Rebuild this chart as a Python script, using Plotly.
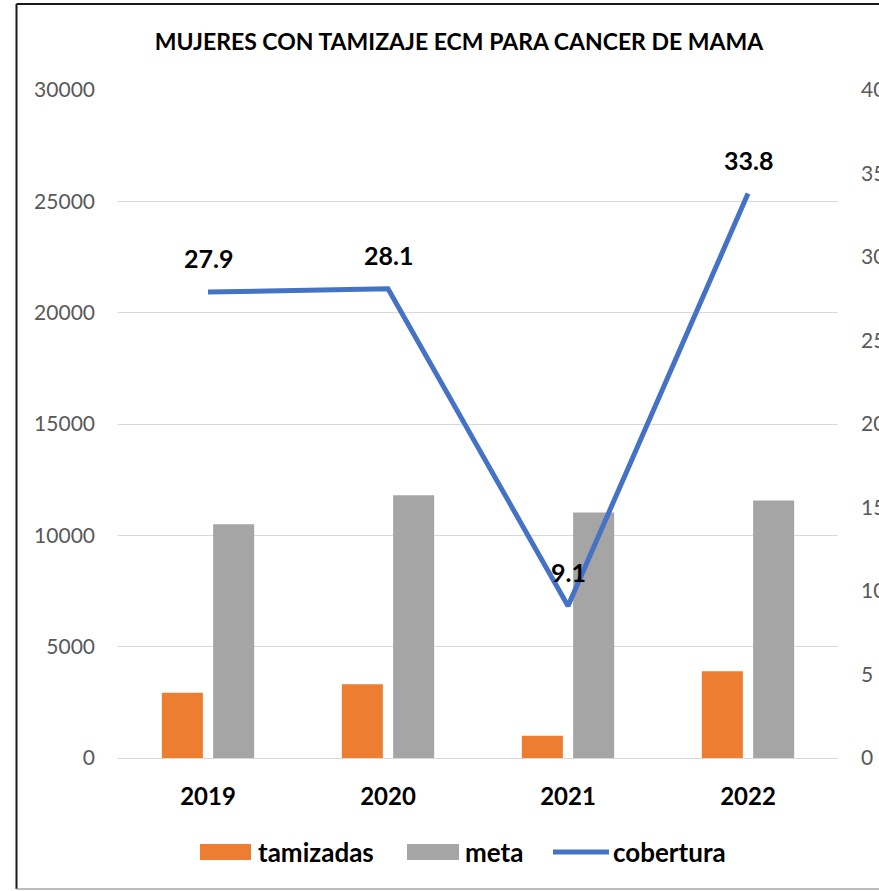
import plotly.graph_objects as go

# Screening data by year
years = ["2019", "2020", "2021", "2022"]
tamizadas = [2930, 3310, 1000, 3900]
meta = [10500, 11800, 11020, 11560]
cobertura = [27.9, 28.1, 9.1, 33.8]

left_ticks = [0, 5000, 10000, 15000, 20000, 25000, 30000]
right_ticks = [0, 5, 10, 15, 20, 25, 30, 35, 40]

FONT = "Lato"
ORANGE = "#ED7D31"
GRAY = "#A5A5A5"
BLUE = "#4472C4"
TICK_COLOR = "#595959"
GRID = "#D9D9D9"

W, H = 879, 891
ML, MR, MT, MB = 118, 41, 90, 133
PW, PH = W - ML - MR, H - MT - MB


def px(xpix):
    """Figure pixel column -> paper x."""
    return (xpix - ML) / PW


def py(ypix):
    """Figure pixel row -> paper y."""
    return (H - MB - ypix) / PH


fig = go.Figure()

fig.add_trace(go.Bar(
    x=years, y=tamizadas, name="tamizadas",
    marker=dict(color=ORANGE, line=dict(width=0)),
))
fig.add_trace(go.Bar(
    x=years, y=meta, name="meta",
    marker=dict(color=GRAY, line=dict(width=0)),
))
fig.add_trace(go.Scatter(
    x=years, y=cobertura, name="cobertura", yaxis="y2",
    mode="lines", line=dict(color=BLUE, width=5),
))

# Value labels above the coverage line (category index positions)
for i, v in enumerate(cobertura):
    fig.add_annotation(
        x=i, y=v, xref="x", yref="y2", text=f"<b>{v}</b>",
        showarrow=False, yshift=34,
        font=dict(family=FONT, size=25, color="#000000"),
    )

# Outer chart border (left, top, bottom edges)
fig.add_shape(type="line", xref="paper", yref="paper",
              x0=px(16.5), x1=px(16.5), y0=py(889), y1=py(4),
              line=dict(color="#1a1a1a", width=2))
fig.add_shape(type="line", xref="paper", yref="paper",
              x0=px(16.5), x1=px(900), y0=py(4), y1=py(4),
              line=dict(color="#1a1a1a", width=2))
fig.add_shape(type="line", xref="paper", yref="paper",
              x0=px(16.5), x1=px(900), y0=py(889), y1=py(889),
              line=dict(color="#A6A6A6", width=1.5))

# Legend drawn below the axis
legend_items = [
    ("tamizadas", ORANGE, "rect", 200, 251, 256),
    ("meta", GRAY, "rect", 407, 459, 463),
    ("cobertura", BLUE, "line", 553, 609, 611),
]
LEG_Y = 852
for name, color, kind, x0, x1, tx in legend_items:
    if kind == "rect":
        fig.add_shape(type="rect", xref="paper", yref="paper",
                      x0=px(x0), x1=px(x1), y0=py(LEG_Y + 8), y1=py(LEG_Y - 8),
                      fillcolor=color, line=dict(width=0))
    else:
        fig.add_shape(type="line", xref="paper", yref="paper",
                      x0=px(x0), x1=px(x1), y0=py(LEG_Y), y1=py(LEG_Y),
                      line=dict(color=color, width=5))
    fig.add_annotation(
        x=px(tx), y=py(LEG_Y), xref="paper", yref="paper",
        xanchor="left", yanchor="middle", showarrow=False,
        text=f"<b>{name}</b>",
        font=dict(family=FONT, size=26, color="#000000"),
    )

fig.update_layout(
    width=W, height=H,
    margin=dict(l=ML, r=MR, t=MT, b=MB, autoexpand=False),
    paper_bgcolor="white", plot_bgcolor="white",
    barmode="group", bargap=0.43, bargroupgap=0.2,
    showlegend=False,
    title=dict(
        text="<b>MUJERES CON TAMIZAJE ECM PARA CANCER DE MAMA</b>",
        x=px(459), xanchor="center", xref="paper",
        y=1 - 42 / H, yanchor="middle",
        font=dict(family=FONT, size=23, color="#000000"),
    ),
    xaxis=dict(
        type="category", categoryorder="array", categoryarray=years,
        range=[-0.5, len(years) - 0.5], automargin=False,
        tickfont=dict(family=FONT, size=24, color="#000000"),
        tickprefix="<b>", ticksuffix="</b>",
        showgrid=False, showline=False, ticks="",
        ticklabelstandoff=22,
    ),
    yaxis=dict(
        range=[0, 30000], tickvals=left_ticks, tickformat="d",
        automargin=False,
        tickfont=dict(family=FONT, size=21, color=TICK_COLOR),
        showgrid=True, gridcolor=GRID, gridwidth=1.3,
        zeroline=True, zerolinecolor=GRID, zerolinewidth=1.3,
        showline=False, ticks="", ticklabelstandoff=22,
    ),
    yaxis2=dict(
        range=[0, 40], tickvals=right_ticks, tickformat="d",
        overlaying="y", side="right", automargin=False,
        tickfont=dict(family=FONT, size=21, color=TICK_COLOR),
        showgrid=False, zeroline=False, showline=False, ticks="",
        ticklabelstandoff=22,
    ),
)

fig.write_html("out.html")
